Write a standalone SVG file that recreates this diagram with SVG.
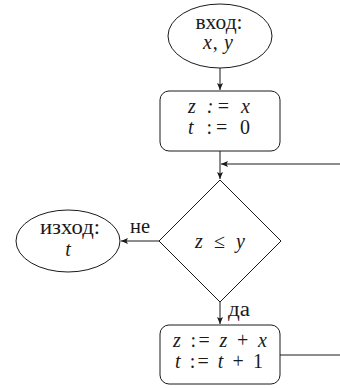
<svg xmlns="http://www.w3.org/2000/svg" width="340" height="388" viewBox="0 0 340 388">
<style>
.s{fill:#fff;stroke:#1a1a1a;stroke-width:1}
.c{fill:none;stroke:#1a1a1a;stroke-width:1}
text{font-family:"Liberation Serif","Times New Roman",serif;font-size:20px;fill:#1a1a1a;text-anchor:middle}
.m{font-style:italic}
.l{text-anchor:start}
</style>
<defs>
<marker id="ah" markerUnits="userSpaceOnUse" markerWidth="8" markerHeight="8" viewBox="0 0 8 8" refX="7" refY="4" orient="auto">
<path d="M0,1 L7,4 L0,7 L1.5,4 Z" fill="#1a1a1a"/>
</marker>
</defs>
<g id="connectors">
<path class="c" d="M220,68 V90" marker-end="url(#ah)"/>
<path class="c" d="M220,151 V179" marker-end="url(#ah)"/>
<path class="c" d="M280,355 H346 V164 H221" marker-end="url(#ah)"/>
<path class="c" d="M159,241 H121" marker-end="url(#ah)"/>
<path class="c" d="M220,302 V324" marker-end="url(#ah)"/>
<text class="l" x="130" y="233" textLength="20" lengthAdjust="spacingAndGlyphs">не</text>
<text class="l" x="228" y="316" textLength="22" lengthAdjust="spacingAndGlyphs">да</text>
</g>
<g id="start">
<ellipse class="s" cx="220" cy="36" rx="52" ry="32"/>
<text x="219" y="29" textLength="47" lengthAdjust="spacingAndGlyphs">вход:</text>
<text x="218" y="49" textLength="30" lengthAdjust="spacing"><tspan class="m">x</tspan>, <tspan class="m">y</tspan></text>
</g>
<g id="init">
<rect class="s" x="160" y="91" width="120" height="60" rx="9"/>
<text class="m" x="219" y="113" textLength="62" lengthAdjust="spacing">z := x</text>
<text x="219" y="134" textLength="62" lengthAdjust="spacing"><tspan class="m">t</tspan> := 0</text>
</g>
<g id="cond">
<polygon class="s" points="220,180 281,241 220,302 159,241"/>
<text x="220" y="248" textLength="50" lengthAdjust="spacing"><tspan class="m">z</tspan> ≤ <tspan class="m">y</tspan></text>
</g>
<g id="end">
<ellipse class="s" cx="68" cy="241" rx="52" ry="31"/>
<text x="70" y="234" textLength="60" lengthAdjust="spacingAndGlyphs">изход:</text>
<text class="m" x="68" y="256">t</text>
</g>
<g id="step">
<rect class="s" x="160" y="325" width="120" height="59" rx="9"/>
<text x="220" y="347" textLength="94" lengthAdjust="spacing"><tspan class="m">z</tspan> := <tspan class="m">z</tspan> + <tspan class="m">x</tspan></text>
<text x="219" y="368" textLength="88" lengthAdjust="spacing"><tspan class="m">t</tspan> := <tspan class="m">t</tspan> + 1</text>
</g>
</svg>
